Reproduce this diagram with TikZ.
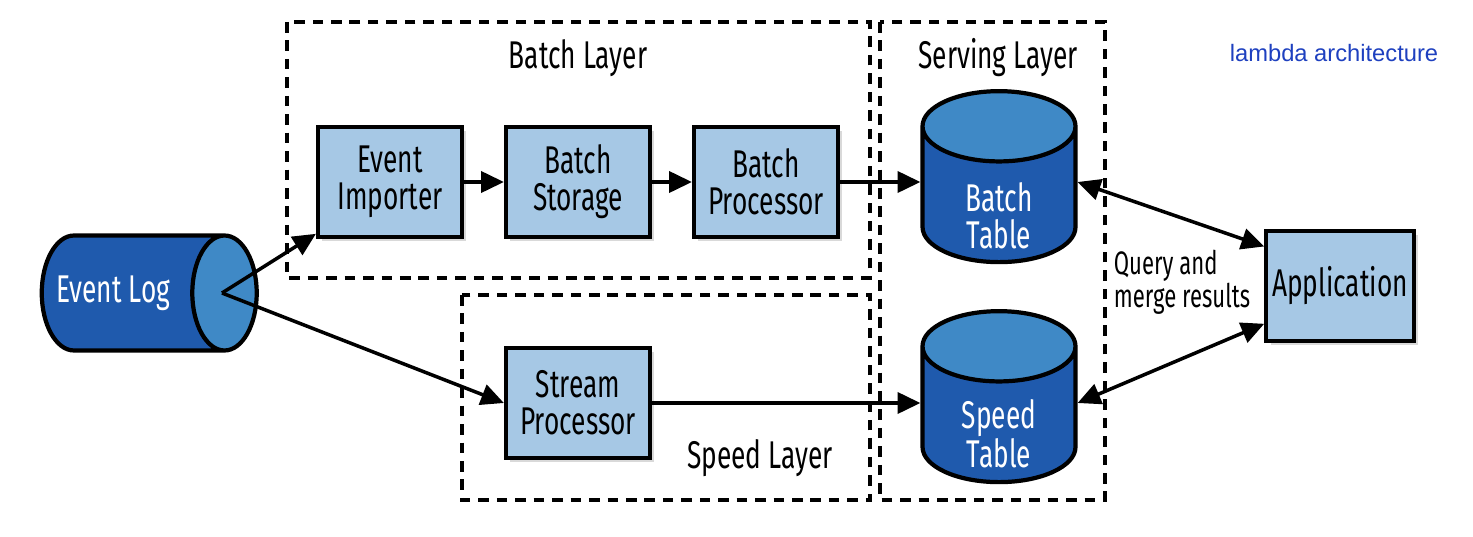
\documentclass[tikz,border=0pt]{standalone}
\usepackage{fontspec}
\setmainfont[FakeStretch=0.68]{Fira Sans}
\newfontfamily\notefont{Liberation Sans}
\usetikzlibrary{arrows.meta,shapes.geometric,shadows}
\definecolor{tabledark}{HTML}{1F5AAD}
\definecolor{tablelight}{HTML}{3F89C6}
\definecolor{boxfill}{HTML}{A6C8E5}
\definecolor{notecolor}{HTML}{1E40BF}
\tikzset{
  proc/.style={draw=black, line width=2.4pt, fill=boxfill, minimum width=2.88cm,
    minimum height=2.2cm, align=center, font=\fontsize{22}{21}\selectfont,
    drop shadow={shadow xshift=2.5pt, shadow yshift=-2.5pt, opacity=0.3}},
  store/.style={cylinder, draw=black, line width=2.4pt, cylinder uses custom fill,
    cylinder body fill=tabledark, cylinder end fill=tablelight},
  storetext/.style={text=white, align=center, font=\fontsize{22}{21}\selectfont},
  layer/.style={draw=black, line width=2.2pt, dash pattern=on 6pt off 4.5pt},
  layertext/.style={font=\fontsize{22}{21}\selectfont},
  flow/.style={line width=2pt, -{Triangle[length=13pt,width=12pt]}},
  twoway/.style={line width=2pt, {Triangle[length=13pt,width=12pt]}-{Triangle[length=13pt,width=12pt]}},
}
\begin{document}
\begin{tikzpicture}[x=0.02cm, y=-0.02cm]
    \useasboundingbox (0,0) rectangle (1473,537);
    % layers
    \draw [layer] (287,22) rectangle (870,278);
    \draw [layer] (462,295) rectangle (870,500);
    \draw [layer] (880,22) rectangle (1105,500);
    \node [layertext] (batchlayer) at (578,58) {Batch Layer};
    \node [layertext] (servinglayer) at (998,58) {Serving Layer};
    \node [layertext] (speedlayer) at (760,458) {Speed Layer};
    \node [text=notecolor, font=\notefont\fontsize{13.5}{15}\selectfont] (title) at (1334,53) {lambda architecture};
    % event log
    \node [store, aspect=5.5, minimum width=2.3cm, minimum height=4.3cm] (eventlog) at (125,293) {};
    \node [storetext] (eventlogtext) at (113,293) {Event Log};
    \coordinate (logtip) at (222,293);
    % processing boxes
    \node [proc] (importer) at (390,182) {Event\\Importer};
    \node [proc] (storage) at (578,182) {Batch\\Storage};
    \node [proc] (processor) at (766,182) {Batch\\Processor};
    \node [proc] (stream) at (578,403) {Stream\\Processor};
    \node [proc] (app) at (1340,286) {Application};
    % serving tables
    \node [store, aspect=6, shape border rotate=90, minimum width=3.06cm, minimum height=3.42cm] (batchtable) at (999,202) {};
    \node [storetext] (batchtabletext) at (999,216) {Batch\\Table};
    \node [store, aspect=6, shape border rotate=90, minimum width=3.06cm, minimum height=3.42cm] (speedtable) at (999,422) {};
    \node [storetext] (speedtabletext) at (999,434) {Speed\\Table};
    \node [align=left, font=\fontsize{18.5}{17}\selectfont] (query) at (1182,282) {Query and\\merge results};
    % connectors
    \draw [flow] (logtip) -- ([yshift=3pt]importer.south west);
    \draw [flow] (logtip) -- (stream.west);
    \draw [flow] (importer) -- (storage);
    \draw [flow] (storage) -- (processor);
    \draw [flow] (processor) -- (processor -| batchtable.180);
    \draw [flow] (stream) -- (stream -| speedtable.180);
    \draw [twoway] (batchtable.0 |- processor) -- ([yshift=-10pt]app.north west);
    \draw [twoway] (speedtable.0 |- stream) -- ([yshift=11pt]app.south west);
\end{tikzpicture}
\end{document}
